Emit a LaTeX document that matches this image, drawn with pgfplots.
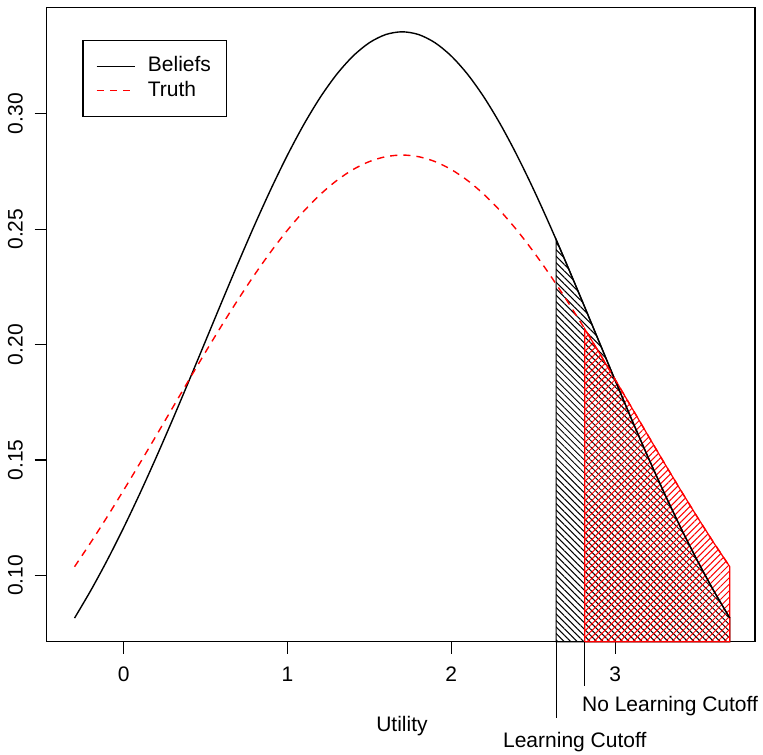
\documentclass[border=0pt]{standalone}
\usepackage{fontspec}
\setmainfont{Liberation Sans}
\usepackage{pgfplots}
\pgfplotsset{compat=1.18}
\usetikzlibrary{patterns.meta}
\begin{document}
\begin{tikzpicture}[font=\fontsize{10.5}{12.6}\selectfont]
\begin{axis}[
  scale only axis, width=354.15pt, height=317.1pt,
  xmin=-0.470, xmax=3.854, ymin=0.0713, ymax=0.3460,
  clip=false,
  axis line style={black, line width=0.7pt},
  tick style={black, line width=0.6pt},
  tick align=outside, major tick length=6pt,
  xtick pos=left, ytick pos=left,
  xtick={0,1,2,3}, xticklabels={0,1,2,3},
  ytick={0.10,0.15,0.20,0.25,0.30},
  yticklabels={0.10,0.15,0.20,0.25,0.30},
  xticklabel style={anchor=base, yshift=-14pt, inner sep=0pt},
  yticklabel style={xshift=-6pt, rotate=90, anchor=base, inner sep=0pt},
  /pgf/number format/assume math mode=true,
  legend style={at={(rel axis cs:0.0503,0.9492)}, anchor=north west,
    draw=black, line width=0.6pt, inner xsep=6.5pt, inner ysep=7pt,
    nodes={inner sep=1.3pt, text height=7.5pt, text depth=2pt},
    row sep=0pt},
  legend cell align=left,
  legend image code/.code={\draw[#1] (0pt,0pt) -- (19.2pt,0pt); \path (24pt,0pt);},
]
% Black hatched area (Beliefs beyond learning cutoff)
\addplot[draw=black, line width=0.6pt, pattern={Lines[angle=-45,distance=2.3pt,line width=0.5pt]}, pattern color=black, forget plot]
 coordinates {(2.64,0.0713) (2.64,0.24546) (2.7,0.23555) (2.8,0.21869) (2.9,0.20161) (3.0,0.18455) (3.1,0.16774) (3.2,0.15140) (3.3,0.13568) (3.4,0.12074) (3.5,0.10668) (3.6,0.09360) (3.7,0.08154) (3.7,0.0713)} -- cycle;
% Red hatched area (Truth beyond no-learning cutoff)
\addplot[draw=red, line width=0.6pt, pattern={Lines[angle=45,distance=2.3pt,line width=0.5pt]}, pattern color=red, forget plot]
 coordinates {(2.815,0.0713) (2.815,0.20674) (2.9,0.19681) (3.0,0.18488) (3.1,0.17282) (3.2,0.16073) (3.3,0.14874) (3.4,0.13697) (3.5,0.12549) (3.6,0.11440) (3.7,0.10378) (3.7,0.0713)} -- cycle;
% Beliefs curve
\addplot[black, line width=0.7pt, smooth] coordinates {
(-0.3,0.08154) (-0.2,0.09360) (-0.1,0.10668) (0.0,0.12074) (0.1,0.13568) (0.2,0.15140) (0.3,0.16774) (0.4,0.18455) (0.5,0.20161) (0.6,0.21869) (0.7,0.23555) (0.8,0.25192) (0.9,0.26753) (1.0,0.28210) (1.1,0.29537) (1.2,0.30709) (1.3,0.31702) (1.4,0.32496) (1.5,0.33076) (1.6,0.33429) (1.7,0.33547) (1.8,0.33429) (1.9,0.33076) (2.0,0.32496) (2.1,0.31702) (2.2,0.30709) (2.3,0.29537) (2.4,0.28210) (2.5,0.26753) (2.6,0.25192) (2.7,0.23555) (2.8,0.21869) (2.9,0.20161) (3.0,0.18455) (3.1,0.16774) (3.2,0.15140) (3.3,0.13568) (3.4,0.12074) (3.5,0.10668) (3.6,0.09360) (3.7,0.08154)};
\addlegendentry{Beliefs}
% Truth curve
\addplot[red, line width=0.7pt, dash pattern=on 3.6pt off 3pt, smooth] coordinates {
(-0.3,0.10378) (-0.2,0.11440) (-0.1,0.12549) (0.0,0.13697) (0.1,0.14874) (0.2,0.16073) (0.3,0.17282) (0.4,0.18488) (0.5,0.19681) (0.6,0.20846) (0.7,0.21969) (0.8,0.23038) (0.9,0.24038) (1.0,0.24957) (1.1,0.25781) (1.2,0.26500) (1.3,0.27103) (1.4,0.27581) (1.5,0.27928) (1.6,0.28138) (1.7,0.28209) (1.8,0.28138) (1.9,0.27928) (2.0,0.27581) (2.1,0.27103) (2.2,0.26500) (2.3,0.25781) (2.4,0.24957) (2.5,0.24038) (2.6,0.23038) (2.7,0.21969) (2.8,0.20846) (2.9,0.19681) (3.0,0.18488) (3.1,0.17282) (3.2,0.16073) (3.3,0.14874) (3.4,0.13697) (3.5,0.12549) (3.6,0.11440) (3.7,0.10378)};
\addlegendentry{Truth}
% cutoff markers below the axis
\addplot[black, line width=0.6pt, forget plot] coordinates {(2.64,0.0713) (2.64,0.0381)};
\addplot[black, line width=0.6pt, forget plot] coordinates {(2.815,0.0713) (2.815,0.052)};
\node[anchor=base west, inner sep=0pt] at (axis cs:2.796,0.04086) {No Learning Cutoff};
\node[anchor=base west, inner sep=0pt] at (axis cs:2.314,0.02568) {Learning Cutoff};
\node[anchor=base, inner sep=0pt] at (axis cs:1.699,0.0322) {Utility};
\end{axis}
\pgfresetboundingbox
\path[use as bounding box] (current axis.south west) ++(-23.35pt,-56.15pt) rectangle ([xshift=4pt,yshift=3.75pt]current axis.north east);
\end{tikzpicture}
\end{document}
